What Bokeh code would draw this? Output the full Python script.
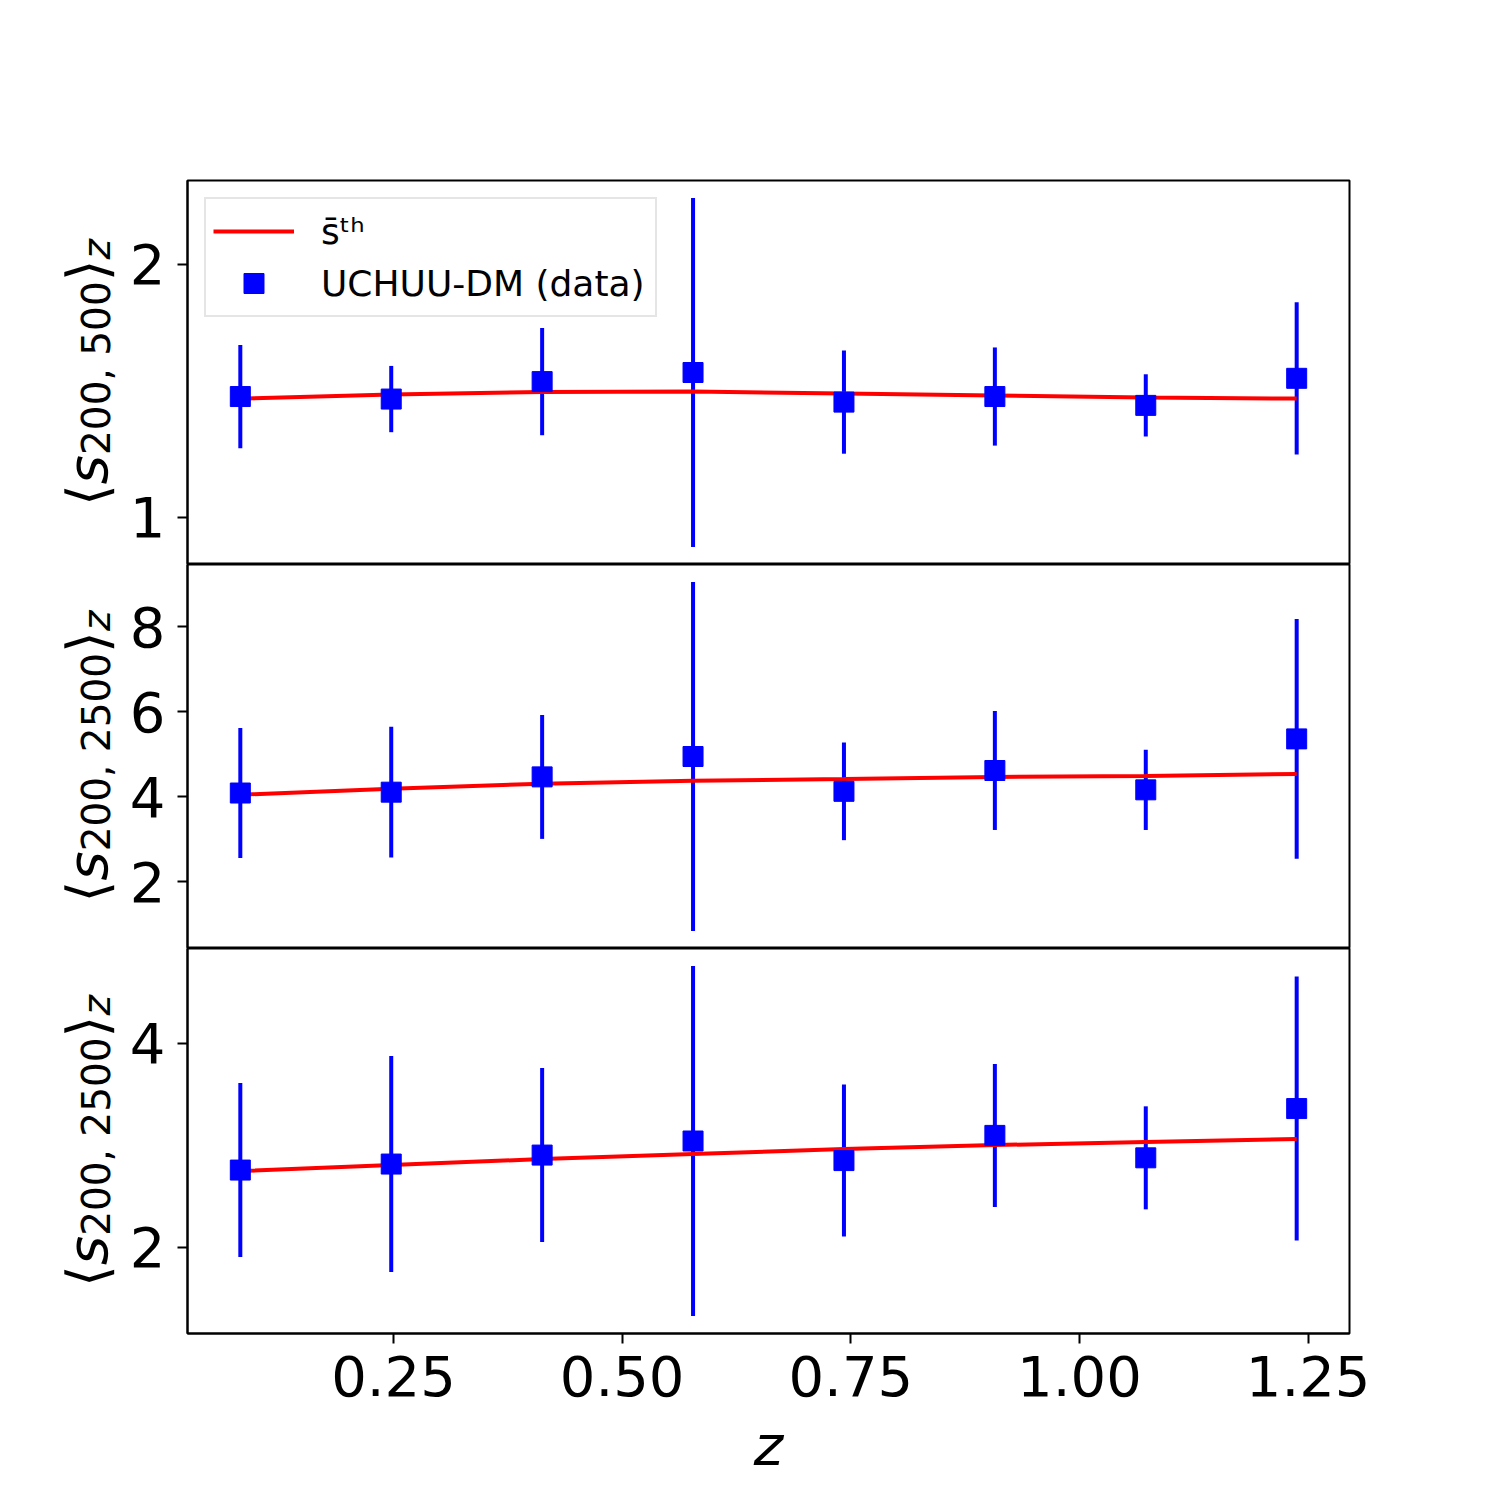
import math
from bokeh.plotting import figure
from bokeh.layouts import column, row
from bokeh.models import Range1d, FixedTicker, Label, Legend, LegendItem, ColumnDataSource
from bokeh.embed import file_html
from bokeh.resources import INLINE

# ---------------- data ----------------
z = [0.0825, 0.2475, 0.4125, 0.5775, 0.7425, 0.9075, 1.0725, 1.2375]

s500_data = [1.478, 1.468, 1.537, 1.573, 1.456, 1.478, 1.443, 1.550]
s500_err = [0.204, 0.131, 0.212, 0.690, 0.204, 0.194, 0.123, 0.301]
s500_th = [1.470, 1.486, 1.496, 1.498, 1.490, 1.482, 1.474, 1.470]

s2500a_data = [4.09, 4.11, 4.47, 4.95, 4.13, 4.62, 4.165, 5.365]
s2500a_err = [1.53, 1.54, 1.46, 4.11, 1.15, 1.40, 0.945, 2.825]
s2500a_th = [4.05, 4.19, 4.31, 4.38, 4.42, 4.47, 4.49, 4.54]

s2500b_data = [2.755, 2.814, 2.902, 3.040, 2.848, 3.095, 2.875, 3.358]
s2500b_err = [0.853, 1.059, 0.853, 1.716, 0.745, 0.701, 0.505, 1.294]
s2500b_th = [2.745, 2.804, 2.863, 2.912, 2.961, 3.000, 3.030, 3.059]

x_ticks = [0.25, 0.5, 0.75, 1.0, 1.25]
x_tick_labels = ["0.25", "0.50", "0.75", "1.00", "1.25"]
y_ticks = [[1, 2], [2, 4, 6, 8], [2, 4]]
ylabel_subs = ["200, 500", "200, 2500", "200, 2500"]
legend_labels = ["s\u0304\u1d57\u02b0", "UCHUU-DM (data)"]
x_label = "z"

# ---------------- style ----------------
FONT = "DejaVu Sans"
RED = "#ff0000"
BLUE = "#0000ff"
LBL_W = 126          # width of the strip holding the y-axis titles
MAIN_W = 1488 - LBL_W
BL, BR = 187 - LBL_W, 139
TOP = 180
BOTTOM = 150

series = [
    (s500_data, s500_err, s500_th),
    (s2500a_data, s2500a_err, s2500a_th),
    (s2500b_data, s2500b_err, s2500b_th),
]

zspan = max(z) - min(z)
xr = Range1d(min(z) - 0.05 * zspan, max(z) + 0.05 * zspan)

# advance widths (em) for DejaVu glyphs, used to centre the composite label
ADV = {"⟨": 0.39, "⟩": 0.39, "s": 0.521, "z": 0.525, ",": 0.318, " ": 0.318}
MAIN_FS = 56
SUB_FS = 39
MAIN_BASE = 87
SUB_BASE = 96


def text_w(t, fs):
    return sum(ADV.get(c, 0.636) for c in t) * fs


def label_strip(sub, frame_h, top, bottom):
    f = figure(width=LBL_W, height=top + frame_h + bottom,
               x_range=Range1d(0, LBL_W), y_range=Range1d(0, frame_h),
               output_backend="svg", toolbar_location=None,
               x_axis_location=None, y_axis_location=None,
               min_border_left=0, min_border_right=0,
               min_border_top=top, min_border_bottom=bottom)
    f.grid.visible = False
    f.outline_line_color = None
    pieces = [("⟨", MAIN_FS, "normal", False), ("s", MAIN_FS, "italic", False),
              (sub, SUB_FS, "normal", True), ("⟩", MAIN_FS, "normal", False),
              ("z", SUB_FS, "italic", True)]
    total = sum(text_w(t, fs) for t, fs, _, _ in pieces)
    y = frame_h / 2 - total / 2
    for t, fs, style, is_sub in pieces:
        f.add_layout(Label(x=SUB_BASE if is_sub else MAIN_BASE, y=y,
                           x_units="screen", y_units="screen",
                           text=t, angle=math.pi / 2, text_align="left",
                           text_baseline="alphabetic", text_font=FONT,
                           text_font_size=f"{fs}px", text_font_style=style,
                           text_color="black"))
        y += text_w(t, fs)
    return f


rows = []
for i, (vals, errs, th) in enumerate(series):
    lo_all = [v - e for v, e in zip(vals, errs)]
    hi_all = [v + e for v, e in zip(vals, errs)]
    ymin, ymax = min(lo_all + th), max(hi_all + th)
    span = ymax - ymin
    yr = Range1d(ymin - 0.05 * span, ymax + 0.05 * span)
    last = i == 2
    top = TOP if i == 0 else 0
    bottom = BOTTOM if last else 0
    fh = 385 if last else 384
    p = figure(width=MAIN_W, height=top + fh + bottom, x_range=xr, y_range=yr,
               output_backend="svg", toolbar_location=None,
               x_axis_location="below" if last else None,
               min_border_left=BL, min_border_right=BR,
               min_border_top=top, min_border_bottom=bottom)
    p.grid.visible = False
    p.outline_line_color = "black"
    p.outline_line_width = 2
    p.background_fill_color = "white"
    p.border_fill_color = "white"

    src = ColumnDataSource(dict(z=z, v=vals, lo=lo_all, hi=hi_all, th=th))
    p.segment(x0="z", y0="lo", x1="z", y1="hi", source=src, line_color=BLUE, line_width=4)
    line_r = p.line("z", "th", source=src, line_color=RED, line_width=4)
    sq_r = p.scatter("z", "v", source=src, marker="square", size=20,
                     fill_color=BLUE, line_color=BLUE, line_width=1)

    yax = p.yaxis[0]
    yax.ticker = FixedTicker(ticks=y_ticks[i])
    yax.minor_tick_line_color = None
    yax.major_tick_out = 10
    yax.major_tick_in = 0
    yax.major_tick_line_width = 2
    yax.axis_line_width = 2
    yax.major_label_text_font = FONT
    yax.major_label_text_font_size = "56px"
    yax.major_label_text_color = "black"
    yax.major_label_standoff = 12

    if last:
        xax = p.xaxis[0]
        xax.ticker = FixedTicker(ticks=x_ticks)
        xax.major_label_overrides = {t: l for t, l in zip(x_ticks, x_tick_labels)}
        xax.minor_tick_line_color = None
        xax.major_tick_out = 10
        xax.major_tick_in = 0
        xax.major_tick_line_width = 2
        xax.axis_line_width = 2
        xax.major_label_text_font = FONT
        xax.major_label_text_font_size = "56px"
        xax.major_label_text_color = "black"
        xax.major_label_standoff = 12
        xax.axis_label = x_label
        xax.axis_label_text_font = FONT
        xax.axis_label_text_font_size = "56px"
        xax.axis_label_text_font_style = "italic"
        xax.axis_label_text_color = "black"
        xax.axis_label_standoff = 14

    if i == 0:
        leg = Legend(items=[LegendItem(label=legend_labels[0], renderers=[line_r]),
                            LegendItem(label=legend_labels[1], renderers=[sq_r])],
                     location="top_left", margin=17, padding=7,
                     glyph_width=81, glyph_height=50, label_height=50,
                     label_standoff=27, spacing=2, label_width=327,
                     label_text_font=FONT, label_text_font_size="36px",
                     label_text_color="black", label_text_baseline="middle",
                     border_line_color="#cccccc", border_line_width=2.5,
                     background_fill_color="white", background_fill_alpha=0.8)
        p.add_layout(leg)
    rows.append(row(label_strip(ylabel_subs[i], fh, top, bottom), p, spacing=0))

layout = column(*rows, spacing=0)
open("out.html", "w").write(file_html(layout, INLINE))
